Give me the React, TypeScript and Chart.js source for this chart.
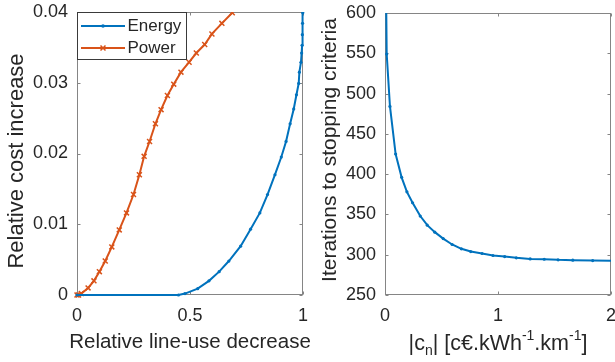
import { useEffect, useRef } from "react";
import { Chart, registerables } from "chart.js";

Chart.register(...registerables);

// ---------- data ----------
const energyX = [0, 0.449, 0.478, 0.534, 0.584, 0.629, 0.672, 0.724, 0.768, 0.809, 0.843, 0.876, 0.904, 0.925, 0.943, 0.959, 0.971, 0.981, 0.984, 0.991, 0.994, 0.996, 0.997, 0.998, 0.999];
const energyY = [0, 0, 0.0002, 0.0009, 0.002, 0.0033, 0.0048, 0.0069, 0.0093, 0.0116, 0.0142, 0.017, 0.0195, 0.0217, 0.0242, 0.0263, 0.0283, 0.0299, 0.0315, 0.0329, 0.0342, 0.0353, 0.0368, 0.0384, 0.0399];
const powerX = [0, 0.007, 0.019, 0.049, 0.075, 0.099, 0.125, 0.154, 0.187, 0.219, 0.25, 0.276, 0.297, 0.321, 0.347, 0.372, 0.4, 0.428, 0.46, 0.496, 0.528, 0.565, 0.597, 0.641, 0.687];
const powerY = [0, 0, 0.0002, 0.001, 0.002, 0.0033, 0.0048, 0.0068, 0.0092, 0.0116, 0.0142, 0.017, 0.0196, 0.0217, 0.0242, 0.0262, 0.0282, 0.0298, 0.0315, 0.0329, 0.0342, 0.0354, 0.0369, 0.0384, 0.0399];

const cnX = [0.007, 0.015, 0.044, 0.094, 0.147, 0.194, 0.244, 0.312, 0.374, 0.441, 0.515, 0.594, 0.676, 0.759, 0.859, 0.956, 1.059, 1.162, 1.285, 1.409, 1.532, 1.662, 1.838, 2.0];
const iterY = [660, 549, 484, 425, 396, 378, 364.5, 348, 336.7, 328, 320, 312.7, 307.3, 303.9, 301.5, 299, 297.7, 296.1, 294.8, 294.4, 293.6, 293.2, 292.7, 292.5];

const leftXTicks = [0, 0.5, 1];
const leftYTicks = [0, 0.01, 0.02, 0.03, 0.04];
const rightXTicks = [0, 1, 2];
const rightYTicks = [250, 300, 350, 400, 450, 500, 550, 600];

const legendLabels = ["Energy", "Power"];
const leftXTitle = "Relative line-use decrease";
const leftYTitle = "Relative cost increase";
const rightYTitle = "Iterations to stopping criteria";
const rightXTitleParts = [
  { t: "|c", k: "n" },
  { t: "n", k: "sub" },
  { t: "| [c€.kWh", k: "n" },
  { t: "-1", k: "sup" },
  { t: ".km", k: "n" },
  { t: "-1", k: "sup" },
  { t: "]", k: "n" },
];

// ---------- style ----------
const FONT = "'Liberation Sans', Arial, sans-serif";
const BLUE = "#0072BD";
const ORANGE = "#D95319";
const AXIS = "#858585";
const TEXT = "#262626";

function pts(xs: number[], ys: number[]) {
  return xs.map((x, i) => ({ x, y: ys[i] }));
}

function framePlugin(xt: number[], yt: number[]) {
  return {
    id: "frame",
    beforeDatasetsDraw(chart: any) {
      const { ctx, chartArea: a, scales } = chart;
      ctx.save();
      ctx.strokeStyle = AXIS;
      ctx.lineWidth = 1;
      const L = Math.round(a.left) + 0.5, R = Math.round(a.right) - 0.5;
      const T = Math.round(a.top) + 0.5, B = Math.round(a.bottom) - 0.5;
      ctx.strokeRect(L, T, R - L, B - T);
      const tl = 3;
      ctx.beginPath();
      xt.forEach((v) => {
        const p = Math.round(scales.x.getPixelForValue(v)) + 0.5;
        ctx.moveTo(p, B); ctx.lineTo(p, B - tl);
        ctx.moveTo(p, T); ctx.lineTo(p, T + tl);
      });
      yt.forEach((v) => {
        const p = Math.round(scales.y.getPixelForValue(v)) + 0.5;
        ctx.moveTo(L, p); ctx.lineTo(L + tl, p);
        ctx.moveTo(R, p); ctx.lineTo(R - tl, p);
      });
      ctx.stroke();
      ctx.restore();
    },
  };
}

interface TitleCfg {
  xTitle: any;
  xSize: number;
  xSmall?: number;
  xBase: number;
  yTitle: string;
  ySize: number;
  yX: number;
  yY: number;
}

function titlesPlugin(c: TitleCfg) {
  return {
    id: "titles",
    afterDraw(chart: any) {
      const { ctx, chartArea: a } = chart;
      ctx.save();
      ctx.fillStyle = TEXT;
      // y title
      ctx.save();
      ctx.font = `${c.ySize}px ${FONT}`;
      ctx.translate(c.yX, c.yY);
      ctx.rotate(-Math.PI / 2);
      ctx.textAlign = "center";
      ctx.textBaseline = "middle";
      ctx.fillText(c.yTitle, 0, 0);
      ctx.restore();
      // x title
      const cx = (a.left + a.right) / 2;
      ctx.textBaseline = "alphabetic";
      if (typeof c.xTitle === "string") {
        ctx.font = `${c.xSize}px ${FONT}`;
        ctx.textAlign = "center";
        ctx.fillText(c.xTitle, cx, c.xBase);
      } else {
        ctx.textAlign = "left";
        const big = `${c.xSize}px ${FONT}`, small = `${c.xSmall}px ${FONT}`;
        let w = 0;
        c.xTitle.forEach((p: any) => {
          ctx.font = p.k === "n" ? big : small;
          w += ctx.measureText(p.t).width;
        });
        let x = cx - w / 2;
        c.xTitle.forEach((p: any) => {
          ctx.font = p.k === "n" ? big : small;
          const dy = p.k === "sub" ? 5 : p.k === "sup" ? -10 : 0;
          ctx.fillText(p.t, x, c.xBase + dy);
          x += ctx.measureText(p.t).width;
        });
      }
      ctx.restore();
    },
  };
}

const legendPlugin = {
  id: "mylegend",
  afterDraw(chart: any) {
    const { ctx, chartArea: a } = chart;
    ctx.save();
    const L = Math.round(a.left) + 0.5, T = Math.round(a.top) + 0.5;
    const W = 109, H = 47;
    ctx.fillStyle = "#ffffff";
    ctx.fillRect(L, T, W, H);
    ctx.strokeStyle = "#3a3a3a";
    ctx.lineWidth = 1;
    ctx.strokeRect(L, T, W, H);
    const rows = [
      { y: 26, c: BLUE, s: "dot" },
      { y: 48, c: ORANGE, s: "x" },
    ];
    rows.forEach((r, i) => {
      ctx.strokeStyle = r.c;
      ctx.lineWidth = 2;
      ctx.beginPath();
      ctx.moveTo(81, r.y); ctx.lineTo(125, r.y);
      ctx.stroke();
      const mx = 103;
      if (r.s === "dot") {
        ctx.fillStyle = r.c;
        ctx.beginPath(); ctx.arc(mx, r.y, 1.8, 0, Math.PI * 2); ctx.fill();
      } else {
        ctx.lineWidth = 1.5;
        ctx.beginPath();
        ctx.moveTo(mx - 2.5, r.y - 2.5); ctx.lineTo(mx + 2.5, r.y + 2.5);
        ctx.moveTo(mx + 2.5, r.y - 2.5); ctx.lineTo(mx - 2.5, r.y + 2.5);
        ctx.stroke();
      }
      ctx.fillStyle = TEXT;
      ctx.font = `17px ${FONT}`;
      ctx.textAlign = "left";
      ctx.textBaseline = "middle";
      ctx.fillText(legendLabels[i], 127.5, r.y + 0.5);
    });
    ctx.restore();
  },
};

function scaleOpts(min: number, max: number, ticks: number[], fix: (s: any) => void, pad: number) {
  return {
    type: "linear" as const,
    min,
    max,
    grid: { display: false, drawTicks: false },
    border: { display: false },
    afterBuildTicks: (s: any) => {
      s.ticks = ticks.map((v) => ({ value: v }));
    },
    afterFit: (s: any) => {
      fix(s);
      s.paddingTop = 0;
      s.paddingBottom = 0;
      s.paddingLeft = 0;
      s.paddingRight = 0;
    },
    ticks: {
      color: TEXT,
      font: { family: FONT, size: 18 },
      padding: pad,
      maxRotation: 0,
      autoSkip: false,
      callback: (v: any) => String(v),
    },
  };
}

export default function App() {
  const leftRef = useRef<HTMLCanvasElement>(null);
  const rightRef = useRef<HTMLCanvasElement>(null);

  useEffect(() => {
    const clip = { left: 6, right: 6, top: 0, bottom: 6 } as any;
    const left = new Chart(leftRef.current!, {
      type: "line",
      data: {
        datasets: [
          {
            label: legendLabels[0],
            data: pts(energyX, energyY),
            borderColor: BLUE,
            backgroundColor: BLUE,
            borderWidth: 2,
            pointRadius: 1.6,
            pointBorderWidth: 0,
            pointStyle: "circle",
            clip,
          },
          {
            label: legendLabels[1],
            data: pts(powerX, powerY),
            borderColor: ORANGE,
            backgroundColor: ORANGE,
            borderWidth: 2,
            pointRadius: 3.5,
            pointBorderWidth: 1.5,
            pointStyle: "crossRot",
            clip,
          },
        ],
      },
      options: {
        responsive: false,
        animation: false,
        devicePixelRatio: 1,
        parsing: false as any,
        layout: { padding: { top: 12, right: 7, left: 0, bottom: 0 } },
        plugins: { legend: { display: false }, tooltip: { enabled: false } },
        scales: {
          x: scaleOpts(0, 1, leftXTicks, (s: any) => { s.height = 67; }, 10) as any,
          y: scaleOpts(0, 0.04, leftYTicks, (s: any) => { s.width = 77; }, 9) as any,
        },
      },
      plugins: [
        framePlugin(leftXTicks, leftYTicks),
        titlesPlugin({ xTitle: leftXTitle, xSize: 20.5, xBase: 347.5, yTitle: leftYTitle, ySize: 22, yX: 16.5, yY: 161 }),
        legendPlugin,
      ],
    });

    const right = new Chart(rightRef.current!, {
      type: "line",
      data: {
        datasets: [
          {
            label: "Iterations",
            data: pts(cnX, iterY),
            borderColor: BLUE,
            backgroundColor: BLUE,
            borderWidth: 2,
            pointRadius: (c: any) => (c.dataIndex === cnX.length - 1 ? 0 : 1.6),
            pointBorderWidth: 0,
            pointStyle: "circle",
            clip,
          },
        ],
      },
      options: {
        responsive: false,
        animation: false,
        devicePixelRatio: 1,
        parsing: false as any,
        layout: { padding: { top: 13, right: 3, left: 0, bottom: 0 } },
        plugins: { legend: { display: false }, tooltip: { enabled: false } },
        scales: {
          x: scaleOpts(0, 2, rightXTicks, (s: any) => { s.height = 67; }, 10) as any,
          y: scaleOpts(250, 600, rightYTicks, (s: any) => { s.width = 75; }, 9) as any,
        },
      },
      plugins: [
        framePlugin(rightXTicks, rightYTicks),
        titlesPlugin({ xTitle: rightXTitleParts, xSize: 21.5, xSmall: 14, xBase: 350, yTitle: rightYTitle, ySize: 21, yX: 20.5, yY: 150 }),
      ],
    });

    return () => {
      left.destroy();
      right.destroy();
    };
  }, []);

  return (
    <div style={{ position: "absolute", left: 0, top: 0, width: 615, height: 362, background: "#fff" }}>
      <canvas ref={leftRef} width={310} height={362} style={{ position: "absolute", left: 0, top: 0 }} />
      <canvas ref={rightRef} width={305} height={362} style={{ position: "absolute", left: 310, top: 0 }} />
    </div>
  );
}
